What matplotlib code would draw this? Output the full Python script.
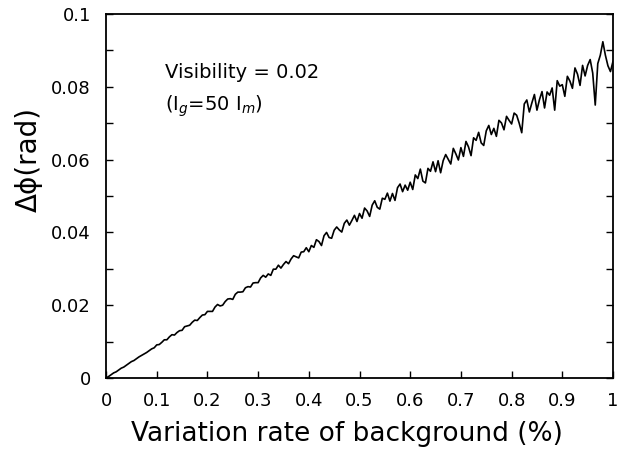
import numpy as np
import matplotlib
matplotlib.use("Agg")
import matplotlib.pyplot as plt

dphi = [
    0.0000, 0.0004, 0.0009, 0.0014, 0.0017, 0.0022, 0.0027, 0.0030, 0.0035, 0.0040,
    0.0045, 0.0048, 0.0053, 0.0058, 0.0062, 0.0066, 0.0070, 0.0075, 0.0080, 0.0083,
    0.0091, 0.0092, 0.0098, 0.0105, 0.0105, 0.0113, 0.0119, 0.0118, 0.0125, 0.0130,
    0.0131, 0.0141, 0.0143, 0.0145, 0.0153, 0.0159, 0.0158, 0.0166, 0.0173, 0.0174,
    0.0183, 0.0183, 0.0183, 0.0195, 0.0202, 0.0198, 0.0200, 0.0210, 0.0217, 0.0218,
    0.0216, 0.0230, 0.0236, 0.0236, 0.0237, 0.0248, 0.0251, 0.0250, 0.0261, 0.0262,
    0.0262, 0.0275, 0.0282, 0.0277, 0.0286, 0.0282, 0.0299, 0.0299, 0.0310, 0.0302,
    0.0312, 0.0320, 0.0314, 0.0327, 0.0336, 0.0333, 0.0330, 0.0346, 0.0347, 0.0358,
    0.0347, 0.0364, 0.0359, 0.0380, 0.0375, 0.0364, 0.0391, 0.0400, 0.0386, 0.0384,
    0.0406, 0.0415, 0.0407, 0.0401, 0.0425, 0.0434, 0.0420, 0.0433, 0.0447, 0.0430,
    0.0452, 0.0439, 0.0467, 0.0459, 0.0444, 0.0475, 0.0487, 0.0469, 0.0464, 0.0494,
    0.0491, 0.0508, 0.0486, 0.0507, 0.0488, 0.0523, 0.0533, 0.0512, 0.0530, 0.0516,
    0.0538, 0.0518, 0.0558, 0.0548, 0.0574, 0.0541, 0.0536, 0.0576, 0.0568, 0.0594,
    0.0567, 0.0597, 0.0564, 0.0597, 0.0614, 0.0601, 0.0588, 0.0631, 0.0616, 0.0599,
    0.0633, 0.0609, 0.0650, 0.0635, 0.0611, 0.0660, 0.0653, 0.0675, 0.0646, 0.0639,
    0.0679, 0.0694, 0.0669, 0.0686, 0.0664, 0.0708, 0.0701, 0.0682, 0.0719, 0.0708,
    0.0698, 0.0728, 0.0722, 0.0700, 0.0674, 0.0753, 0.0764, 0.0731, 0.0756, 0.0779,
    0.0736, 0.0765, 0.0787, 0.0742, 0.0786, 0.0777, 0.0797, 0.0736, 0.0817, 0.0802,
    0.0806, 0.0774, 0.0829, 0.0816, 0.0796, 0.0852, 0.0835, 0.0804, 0.0859, 0.0830,
    0.0859, 0.0875, 0.0838, 0.0750, 0.0864, 0.0887, 0.0924, 0.0887, 0.0858, 0.0842,
    0.0870,
]
rate = np.linspace(0.0, 1.0, len(dphi))

xticks = [0, 0.1, 0.2, 0.3, 0.4, 0.5, 0.6, 0.7, 0.8, 0.9, 1]
xticklabels = ["0", "0.1", "0.2", "0.3", "0.4", "0.5", "0.6", "0.7", "0.8", "0.9", "1"]
yticks = [0, 0.02, 0.04, 0.06, 0.08, 0.1]
yticklabels = ["0", "0.02", "0.04", "0.06", "0.08", "0.1"]

plt.rcParams['font.family'] = ['DejaVu Sans']

fig = plt.figure(figsize=(6.3, 4.54), dpi=100)
ax = fig.add_axes([0.1683, 0.1674, 0.973 - 0.1683, 0.969 - 0.1674])

ax.plot(rate, dphi, color='black', linewidth=1.2)

ax.set_xlim(0, 1)
ax.set_ylim(0, 0.1)
ax.set_xticks(xticks)
ax.set_xticklabels(xticklabels)
ax.set_yticks(yticks)
ax.set_yticklabels(yticklabels)
ax.set_yticks([0.01, 0.03, 0.05, 0.07, 0.09], minor=True)

ax.tick_params(axis='both', which='major', direction='in', length=5, width=1,
               labelsize=13, right=True)
ax.tick_params(axis='x', which='major', pad=10)
ax.tick_params(axis='y', which='major', pad=11)
ax.tick_params(axis='y', which='minor', direction='in', length=5, width=1, right=True)
for s in ax.spines.values():
    s.set_linewidth(1.3)

ax.set_xlabel("Variation rate of background (%)", fontsize=19)
ax.xaxis.set_label_coords(0.476, -0.118)
ax.set_ylabel("Δϕ(rad)", fontsize=20)
ax.yaxis.set_label_coords(-0.125, 0.60)

ax.text(0.116, 0.0824, "Visibility = 0.02", fontsize=14)
ax.text(0.116, 0.0735, "(I$_g$=50 I$_m$)", fontsize=14)

fig.savefig("out.png", dpi=100)
